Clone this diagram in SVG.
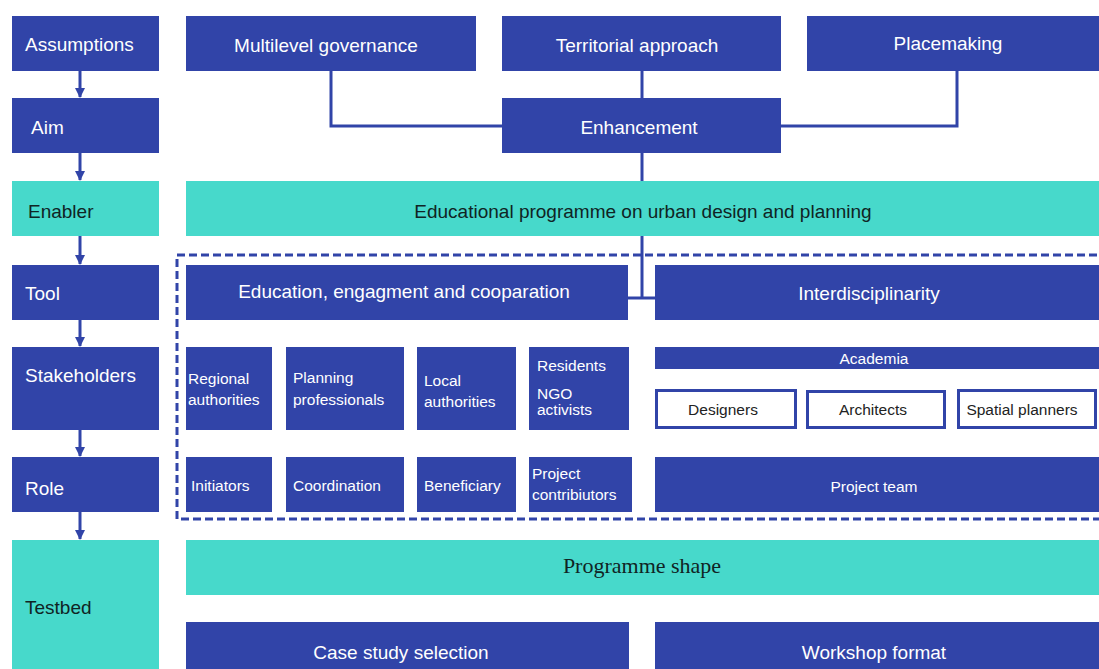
<svg xmlns="http://www.w3.org/2000/svg" width="1099" height="669" viewBox="0 0 1099 669">
<defs>
<marker id="ah" viewBox="0 0 10 10" refX="9" refY="5" markerWidth="3.4" markerHeight="3.4" orient="auto" markerUnits="strokeWidth">
<path d="M0,0 L10,5 L0,10 z" fill="#3144A8"/>
</marker>
<style>
.b{fill:#3144A8}
.t{fill:#47D9CB}
.o{fill:#fff;stroke:#3144A8;stroke-width:3}
.w{fill:#fff;font-family:"Liberation Sans",Arial,sans-serif;font-size:19px}
.d{fill:#102424;font-family:"Liberation Sans",Arial,sans-serif;font-size:19px}
.s{fill:#fff;font-family:"Liberation Sans",Arial,sans-serif;font-size:15.5px}
.sd{fill:#222;font-family:"Liberation Sans",Arial,sans-serif;font-size:15.5px}
.c{text-anchor:middle}
.ln{fill:none;stroke:#3144A8;stroke-width:3}
.ar{fill:none;stroke:#3144A8;stroke-width:3;marker-end:url(#ah)}
</style>
</defs>
<g id="connectors">
<line class="ar" x1="80" y1="71" x2="80" y2="97"/>
<line class="ar" x1="80" y1="153" x2="80" y2="180"/>
<line class="ar" x1="80" y1="236" x2="80" y2="264"/>
<line class="ar" x1="80" y1="320" x2="80" y2="346"/>
<line class="ar" x1="80" y1="430" x2="80" y2="456"/>
<line class="ar" x1="80" y1="512" x2="80" y2="539"/>
<polyline class="ln" points="331,71 331,126 502,126"/>
<polyline class="ln" points="957,71 957,126 781,126"/>
<line class="ln" x1="642" y1="71" x2="642" y2="98"/>
<line class="ln" x1="642" y1="153" x2="642" y2="181"/>
<line class="ln" x1="642" y1="236" x2="642" y2="298"/>
<line class="ln" x1="628" y1="298" x2="655" y2="298"/>
</g>
<rect id="dashed-group" x="177" y="255" width="930" height="264" fill="none" stroke="#3144A8" stroke-width="3" stroke-dasharray="8 4"/>
<g id="assumptions"><rect class="b" x="12" y="16" width="147" height="55"/><text class="w" x="25" y="51">Assumptions</text></g>
<g id="aim"><rect class="b" x="12" y="98" width="147" height="55"/><text class="w" x="31" y="134">Aim</text></g>
<g id="enabler"><rect class="t" x="12" y="181" width="147" height="55"/><text class="d" x="28" y="218">Enabler</text></g>
<g id="tool"><rect class="b" x="12" y="265" width="147" height="55"/><text class="w" x="25" y="300">Tool</text></g>
<g id="stakeholders"><rect class="b" x="12" y="347" width="147" height="83"/><text class="w" x="25" y="382">Stakeholders</text></g>
<g id="role"><rect class="b" x="12" y="457" width="147" height="55"/><text class="w" x="25" y="495">Role</text></g>
<g id="testbed"><rect class="t" x="12" y="540" width="147" height="129"/><text class="d" x="25" y="614">Testbed</text></g>
<g id="multilevel"><rect class="b" x="186" y="16" width="290" height="55"/><text class="w c" x="326" y="52">Multilevel governance</text></g>
<g id="territorial"><rect class="b" x="502" y="16" width="279" height="55"/><text class="w c" x="637" y="52">Territorial approach</text></g>
<g id="placemaking"><rect class="b" x="807" y="16" width="292" height="55"/><text class="w c" x="948" y="50">Placemaking</text></g>
<g id="enhancement"><rect class="b" x="502" y="98" width="279" height="55"/><text class="w c" x="639" y="134">Enhancement</text></g>
<g id="educational"><rect class="t" x="186" y="181" width="913" height="55"/><text class="d c" x="643" y="218">Educational programme on urban design and planning</text></g>
<g id="education"><rect class="b" x="186" y="265" width="442" height="55"/><text class="w c" x="404" y="298">Education, engagment and cooparation</text></g>
<g id="interdisciplinarity"><rect class="b" x="655" y="265" width="444" height="55"/><text class="w c" x="869" y="300">Interdisciplinarity</text></g>
<g id="regional"><rect class="b" x="186" y="347" width="86" height="83"/><text class="s" x="188" y="384">Regional</text><text class="s" x="188" y="405">authorities</text></g>
<g id="planning"><rect class="b" x="286" y="347" width="118" height="83"/><text class="s" x="293" y="383">Planning</text><text class="s" x="293" y="405">professionals</text></g>
<g id="local"><rect class="b" x="417" y="347" width="99" height="83"/><text class="s" x="424" y="386">Local</text><text class="s" x="424" y="407">authorities</text></g>
<g id="residents"><rect class="b" x="529" y="347" width="100" height="83"/><text class="s" x="537" y="371">Residents</text><text class="s" x="537" y="399">NGO</text><text class="s" x="537" y="415">activists</text></g>
<g id="initiators"><rect class="b" x="186" y="457" width="86" height="55"/><text class="s" x="191" y="491">Initiators</text></g>
<g id="coordination"><rect class="b" x="286" y="457" width="118" height="55"/><text class="s" x="293" y="491">Coordination</text></g>
<g id="beneficiary"><rect class="b" x="417" y="457" width="99" height="55"/><text class="s" x="424" y="491">Beneficiary</text></g>
<g id="contributors"><rect class="b" x="529" y="457" width="103" height="55"/><text class="s" x="532" y="479">Project</text><text class="s" x="532" y="500">contribiutors</text></g>
<g id="academia"><rect class="b" x="655" y="347" width="444" height="22"/><text class="s c" x="874" y="364">Academia</text></g>
<g id="designers"><rect class="o" x="656.5" y="390.5" width="139" height="37"/><text class="sd c" x="723" y="415">Designers</text></g>
<g id="architects"><rect class="o" x="807.5" y="391.5" width="137" height="36"/><text class="sd c" x="873" y="415">Architects</text></g>
<g id="spatial"><rect class="o" x="958.5" y="390.5" width="137" height="37"/><text class="sd c" x="1022" y="415">Spatial planners</text></g>
<g id="projectteam"><rect class="b" x="655" y="457" width="444" height="55"/><text class="s c" x="874" y="492">Project team</text></g>
<g id="programme"><rect class="t" x="186" y="540" width="913" height="55"/><text class="c" x="642" y="573" style="font-family:'Liberation Serif','Times New Roman',serif;font-size:22px;fill:#102424">Programme shape</text></g>
<g id="casestudy"><rect class="b" x="186" y="622" width="443" height="47"/><text class="w c" x="401" y="659">Case study selection</text></g>
<g id="workshop"><rect class="b" x="655" y="622" width="444" height="47"/><text class="w c" x="874" y="659">Workshop format</text></g>
</svg>
